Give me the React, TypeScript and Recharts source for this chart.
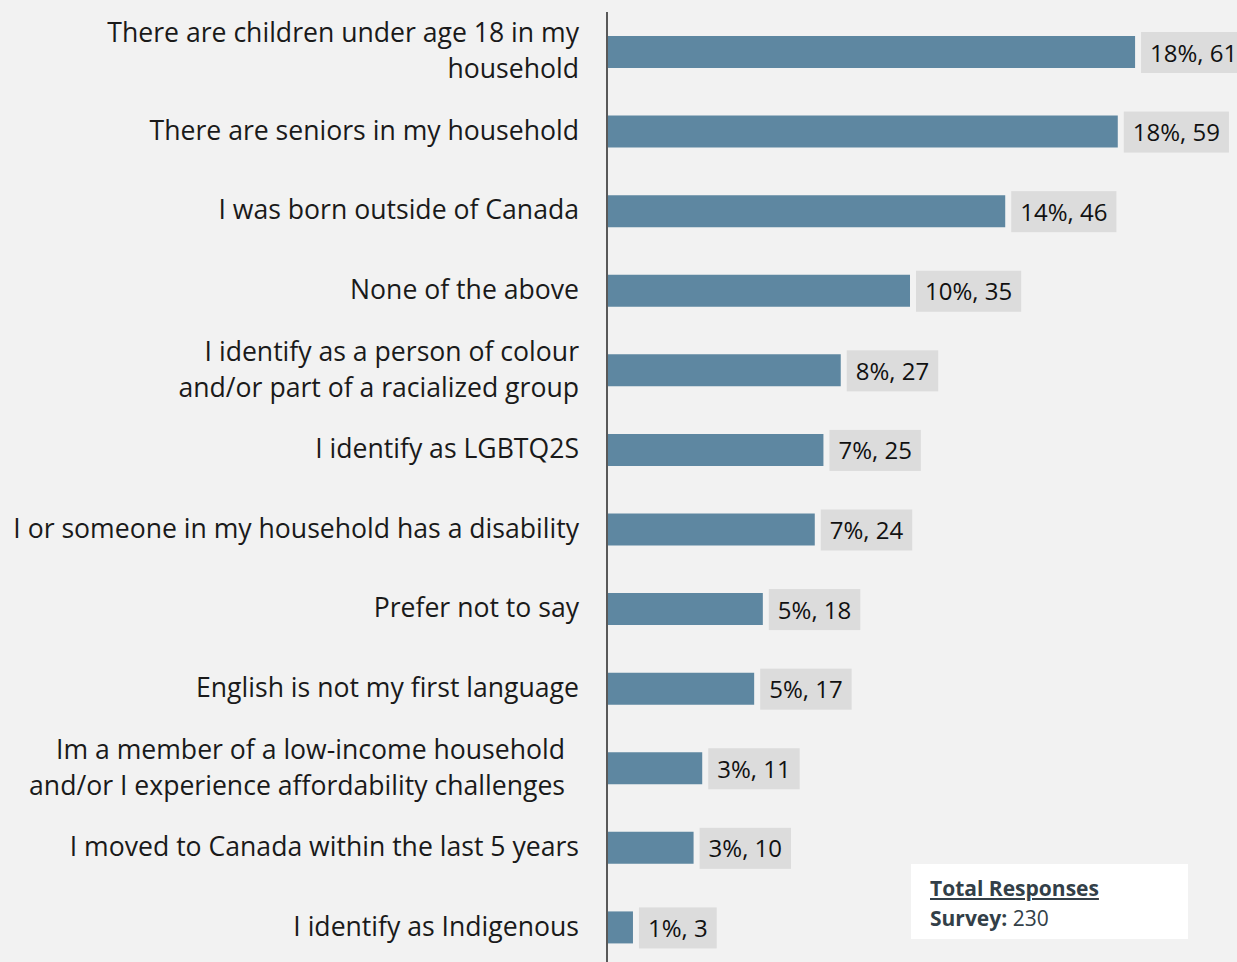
import React from "react";
import { BarChart, Bar, XAxis, YAxis, LabelList } from "recharts";

const categories: string[] = [
  "There are children under age 18 in my\nhousehold",
  "There are seniors in my household",
  "I was born outside of Canada",
  "None of the above",
  "I identify as a person of colour\nand/or part of a racialized group",
  "I identify as LGBTQ2S",
  "I or someone in my household has a disability",
  "Prefer not to say",
  "English is not my first language",
  "Im a member of a low-income household\nand/or I experience affordability challenges",
  "I moved to Canada within the last 5 years",
  "I identify as Indigenous",
];
const counts: number[] = [61, 59, 46, 35, 27, 25, 24, 18, 17, 11, 10, 3];
const percents: number[] = [18, 18, 14, 10, 8, 7, 7, 5, 5, 3, 3, 1];

const totalLabel = "Total Responses";
const surveyLabel = "Survey:";
const surveyTotal = 230;

const data = categories.map((c, i) => ({
  name: c,
  count: counts[i],
  label: `${percents[i]}%, ${counts[i]}`,
}));

const FONT = "'Open Sans', 'Noto Sans', sans-serif";

let ctx: CanvasRenderingContext2D | null = null;
function measure(text: string, font: string): number {
  if (!ctx) {
    const c = document.createElement("canvas");
    ctx = c.getContext("2d");
  }
  if (!ctx) return text.length * 12;
  ctx.font = font;
  return ctx.measureText(text).width;
}

const YTick = (props: any) => {
  const { x, y, payload } = props;
  const lines: string[] = String(payload.value).split("\n");
  const extra = String(payload.value).startsWith("Im a member") ? 14 : 0;
  return (
    <g>
      {lines.map((ln, i) => (
        <text
          key={i}
          x={x - 28 - extra}
          y={y - 1.5 + (i - (lines.length - 1) / 2) * 36}
          textAnchor="end"
          dominantBaseline="central"
          fontFamily={FONT}
          fontSize={26.6}
          fill="#1a1a1a"
        >
          {ln}
        </text>
      ))}
    </g>
  );
};

const BoxLabel = (props: any) => {
  const { x, y, width, height, value } = props;
  const fs = 24;
  const tw = measure(String(value), `${fs}px 'Open Sans'`);
  const bx = x + width + 6;
  const cy = y + height / 2;
  return (
    <g>
      <rect x={bx} y={cy - 20} width={tw + 18} height={41} fill="#dcdcdc" />
      <text
        x={bx + 9}
        y={cy}
        dominantBaseline="central"
        fontFamily={FONT}
        fontSize={fs}
        fill="#111"
      >
        {value}
      </text>
    </g>
  );
};

export default function App() {
  return (
    <div
      style={{
        position: "absolute",
        left: 0,
        top: 0,
        width: 1237,
        height: 962,
        overflow: "hidden",
        background: "#f2f2f2",
      }}
    >
      <BarChart
        width={1237}
        height={967}
        data={data}
        layout="vertical"
        margin={{ top: 12, right: 24, bottom: 0, left: 0 }}
        barCategoryGap={0}
      >
        <XAxis type="number" domain={[0, 70]} hide />
        <YAxis
          type="category"
          dataKey="name"
          width={607}
          tick={<YTick />}
          tickLine={false}
          tickSize={0}
          tickMargin={0}
          axisLine={{ stroke: "#595959", strokeWidth: 2 }}
          interval={0}
        />
        <Bar dataKey="count" fill="#5e87a1" barSize={32} isAnimationActive={false}>
          <LabelList dataKey="label" content={<BoxLabel />} />
        </Bar>
      </BarChart>
      <div
        style={{
          position: "absolute",
          left: 911,
          top: 864,
          width: 277,
          height: 75,
          background: "#ffffff",
          fontFamily: FONT,
          color: "#333f48",
          fontSize: 21,
          lineHeight: "30px",
          boxSizing: "border-box",
          padding: "9px 0 0 19px",
        }}
      >
        <div style={{ fontWeight: 700, textDecoration: "underline" }}>{totalLabel}</div>
        <div>
          <span style={{ fontWeight: 700 }}>{surveyLabel}</span> {surveyTotal}
        </div>
      </div>
    </div>
  );
}
